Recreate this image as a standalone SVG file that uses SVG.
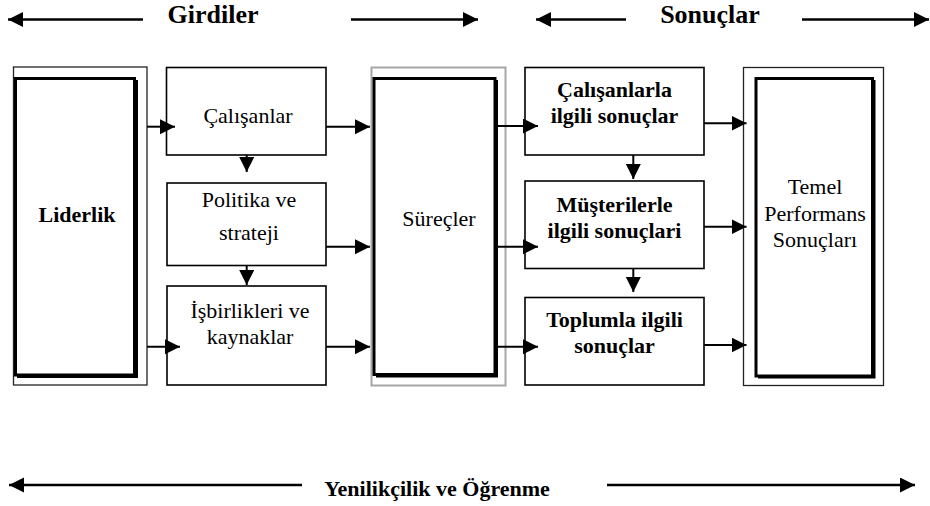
<svg xmlns="http://www.w3.org/2000/svg" width="930" height="506" viewBox="0 0 930 506">
<defs>
<marker id="ah" markerUnits="userSpaceOnUse" markerWidth="18" markerHeight="18" refX="15" refY="7.5" orient="auto">
<path d="M0,0 L15,7.5 L0,15 Z" fill="#000"/>
</marker>
<marker id="ah2" markerUnits="userSpaceOnUse" markerWidth="18" markerHeight="18" refX="15" refY="7.5" orient="auto">
<path d="M0,0 L15,7.5 L0,15 Z" fill="#000"/>
</marker>
</defs>
<style>
.box{fill:#fff;stroke:#000;stroke-width:1.6}
.outer{fill:#fff;stroke:#222;stroke-width:1.3}
.gray{fill:#fff;stroke:#a6a6a6;stroke-width:2}
.inner{fill:#fff;stroke:#000;stroke-width:3}
.shadow{fill:none;stroke:#000;stroke-width:2}
.t{font-size:22px;fill:#000;text-anchor:middle}
.b{font-weight:bold}
.h{font-size:26px;font-weight:bold;fill:#000;text-anchor:middle}
.c{stroke:#000;stroke-width:2;fill:none;marker-end:url(#ah)}
.hc{stroke:#000;stroke-width:2.5;fill:none;marker-end:url(#ah2)}
</style>

<g id="header" font-family="Liberation Serif, Tinos, Times New Roman, DejaVu Serif, serif">
<text class="h" x="213" y="23">Girdiler</text>
<text class="h" x="710" y="23">Sonuçlar</text>
<text class="t b" x="437" y="496">Yenilikçilik ve Öğrenme</text>
</g>

<g id="liderlik" font-family="Liberation Serif, Tinos, Times New Roman, DejaVu Serif, serif">
<rect class="outer" x="13.5" y="67" width="133.5" height="318"/>
<rect class="inner" x="15.5" y="78.5" width="119" height="296.5"/>
<path class="shadow" d="M137,80 V377 H17"/>
<text class="t b" x="77" y="222">Liderlik</text>
</g>

<g id="calisanlar" font-family="Liberation Serif, Tinos, Times New Roman, DejaVu Serif, serif">
<rect class="box" x="166.5" y="67.5" width="159.5" height="87.5"/>
<text class="t" x="248" y="123">Çalışanlar</text>
</g>

<g id="politika" font-family="Liberation Serif, Tinos, Times New Roman, DejaVu Serif, serif">
<rect class="box" x="167" y="183" width="159" height="82.5"/>
<text class="t" x="249" y="207">Politika ve</text>
<text class="t" x="249" y="240">strateji</text>
</g>

<g id="isbirlikleri" font-family="Liberation Serif, Tinos, Times New Roman, DejaVu Serif, serif">
<rect class="box" x="167" y="286" width="159" height="99"/>
<text class="t" x="250" y="318">İşbirlikleri ve</text>
<text class="t" x="250" y="344">kaynaklar</text>
</g>

<g id="surecler" font-family="Liberation Serif, Tinos, Times New Roman, DejaVu Serif, serif">
<rect class="gray" x="371.5" y="67.5" width="134" height="318"/>
<rect class="inner" x="374" y="78.5" width="121" height="296"/>
<path class="shadow" d="M497,80 V376.5 H376"/>
<text class="t" x="439" y="226">Süreçler</text>
</g>

<g id="calisanlarla" font-family="Liberation Serif, Tinos, Times New Roman, DejaVu Serif, serif">
<rect class="box" x="525" y="67.5" width="179" height="87.5"/>
<text class="t b" x="614.5" y="97">Çalışanlarla</text>
<text class="t b" x="614.5" y="123">ilgili sonuçlar</text>
</g>

<g id="musterilerle" font-family="Liberation Serif, Tinos, Times New Roman, DejaVu Serif, serif">
<rect class="box" x="525" y="181" width="179" height="87.5"/>
<text class="t b" x="614.5" y="212">Müşterilerle</text>
<text class="t b" x="614.5" y="238">ilgili sonuçlari</text>
</g>

<g id="toplumla" font-family="Liberation Serif, Tinos, Times New Roman, DejaVu Serif, serif">
<rect class="box" x="525" y="297.5" width="179" height="87.5"/>
<text class="t b" x="614.5" y="327">Toplumla ilgili</text>
<text class="t b" x="614.5" y="353">sonuçlar</text>
</g>

<g id="temel" font-family="Liberation Serif, Tinos, Times New Roman, DejaVu Serif, serif">
<rect class="outer" x="743.5" y="67.5" width="140" height="318"/>
<rect class="inner" x="756" y="78.5" width="116.5" height="297.5"/>
<path class="shadow" d="M874.5,80 V377.5 H758"/>
<text class="t" x="815" y="194">Temel</text>
<text class="t" x="815" y="221">Performans</text>
<text class="t" x="815" y="247">Sonuçları</text>
</g>

<g id="connectors">
<line class="hc" x1="143" y1="19.5" x2="8" y2="19.5"/>
<line class="hc" x1="351" y1="19.5" x2="478" y2="19.5"/>
<line class="hc" x1="626" y1="19.5" x2="536" y2="19.5"/>
<line class="hc" x1="802" y1="19.5" x2="929" y2="19.5"/>
<line class="hc" x1="302" y1="485" x2="9" y2="485"/>
<line class="hc" x1="607" y1="485" x2="915" y2="485"/>

<line class="c" x1="147" y1="126.7" x2="175" y2="126.7"/>
<line class="c" x1="147" y1="346.7" x2="180" y2="346.7"/>
<line class="c" x1="326" y1="126.7" x2="370" y2="126.7"/>
<line class="c" x1="326" y1="246.7" x2="370" y2="246.7"/>
<line class="c" x1="326" y1="346.7" x2="370" y2="346.7"/>
<line class="c" x1="246.7" y1="155" x2="246.7" y2="172"/>
<line class="c" x1="246.7" y1="265.5" x2="246.7" y2="285"/>
<line class="c" x1="497" y1="126" x2="538" y2="126"/>
<line class="c" x1="497" y1="246.7" x2="538" y2="246.7"/>
<line class="c" x1="497" y1="346.7" x2="538" y2="346.7"/>
<line class="c" x1="704" y1="123.3" x2="746.5" y2="123.3"/>
<line class="c" x1="704" y1="226.7" x2="746.5" y2="226.7"/>
<line class="c" x1="704" y1="345" x2="746.5" y2="345"/>
<line class="c" x1="633.3" y1="155" x2="633.3" y2="179"/>
<line class="c" x1="633.3" y1="268.5" x2="633.3" y2="292"/>
</g>
</svg>
